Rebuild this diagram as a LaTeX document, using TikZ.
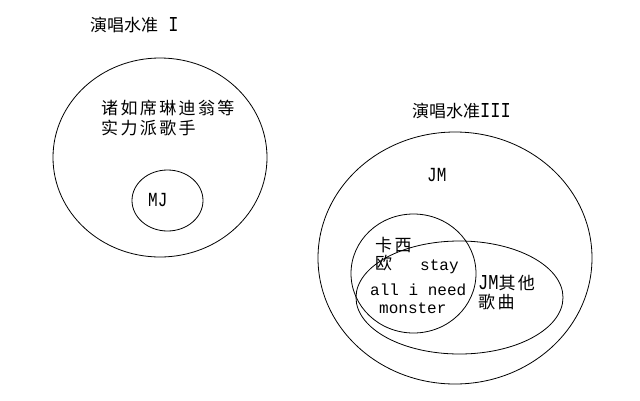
\documentclass[tikz,border=0pt]{standalone}
\usepackage{fontspec}
\setmainfont{Liberation Mono}
\newfontfamily\cjk{Noto Sans CJK SC}
\newfontfamily\cjksp[LetterSpace=14]{Noto Sans CJK SC}
\newcommand\tallcaps[1]{\scalebox{1}[1.25]{#1}}
\usetikzlibrary{shapes.geometric}
\begin{document}
\begin{tikzpicture}[x=1pt,y=-1pt,
  setring/.style={draw, ellipse, inner sep=0pt, line width=0.8pt},
  lbl/.style={inner sep=0pt, anchor=west, font=\fontsize{16}{18}\selectfont},
  zh/.style={inner sep=0pt, anchor=west, font=\fontsize{17}{19}\selectfont\cjksp, align=left}]
\useasboundingbox (0,0) rectangle (640,400);
% left set
\node[setring, minimum width=214pt, minimum height=199pt] (levelI) at (160,157.5) {};
\node[setring, minimum width=71pt, minimum height=61pt] (mj) at (167.5,200.5) {};
\node[inner sep=0pt, anchor=west, font=\fontsize{17}{18}\selectfont] (titleI) at (90,25) {{\cjk 演唱水准} \tallcaps{I}};
\node[zh] (strong1) at (101,108) {诸如席琳迪翁等};
\node[zh] (strong2) at (101,128) {实力派歌手};
\node[lbl] (mjlbl) at (148,200) {\tallcaps{MJ}};
% right set
\node[setring, minimum width=274pt, minimum height=252pt] (levelIII) at (455,258) {};
\node[setring, minimum width=125pt, minimum height=119pt] (casio) at (413.5,273.5) {};
\node[setring, minimum width=207pt, minimum height=113pt] (jmother) at (459.5,297.5) {};
\node[inner sep=0pt, anchor=west, font=\fontsize{17}{18}\selectfont] (titleIII) at (412,111) {{\cjk 演唱水准}\tallcaps{III}};
\node[lbl] (jm) at (427,175) {\tallcaps{JM}};
\node[zh] (ka) at (375,245) {卡西};
\node[zh] (ou) at (375,263) {欧};
\node[lbl] (stay) at (420,267) {stay};
\node[lbl] (allineed) at (370,290) {all i need};
\node[lbl] (monster) at (379,308) {monster};
\node[zh] (other1) at (478,283) {{\fontspec{Liberation Mono}\tallcaps{JM}}其他};
\node[zh] (other2) at (478,302) {歌曲};
\end{tikzpicture}
\end{document}
